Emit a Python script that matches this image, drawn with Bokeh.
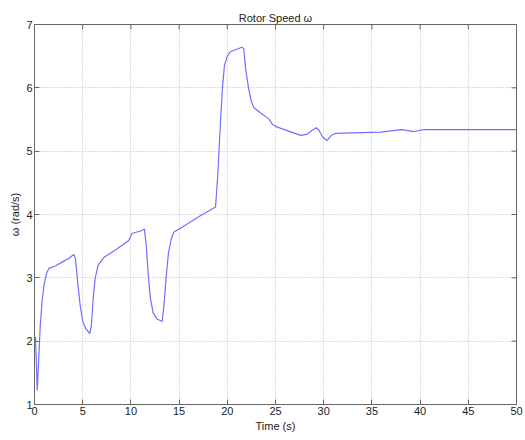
import math
from bokeh.plotting import figure
from bokeh.models import Range1d, FixedTicker
from bokeh.embed import file_html
from bokeh.resources import INLINE

time_s = [0.0, 0.1, 0.2, 0.28, 0.4, 0.6, 0.8, 1.0, 1.25, 1.5, 2.2, 3.0, 3.6, 4.08, 4.25, 4.5,
          4.75, 5.0, 5.3, 5.74, 5.9, 6.1, 6.3, 6.6, 7.19, 8.58, 9.78, 10.1, 11.0, 11.4, 11.6,
          11.8, 12.0, 12.3, 12.7, 13.25, 13.45, 13.65, 13.9, 14.2, 14.45, 15.3, 17.2, 18.78,
          19.0, 19.3, 19.5, 19.7, 20.0, 20.3, 21.5, 21.7, 21.9, 22.2, 22.5, 22.75, 23.5, 24.3,
          24.7, 25.2, 27.6, 28.3, 28.8, 29.25, 29.5, 29.9, 30.36, 30.8, 31.2, 35.9, 38.1,
          39.35, 40.4, 45.0, 50.0]
omega = [2.05, 2.06, 1.6, 1.22, 1.6, 2.25, 2.65, 2.9, 3.07, 3.15, 3.19, 3.26, 3.31, 3.37, 3.3, 2.9,
         2.55, 2.32, 2.2, 2.12, 2.25, 2.7, 3.0, 3.2, 3.32, 3.46, 3.59, 3.70, 3.74, 3.77, 3.5,
         3.05, 2.7, 2.45, 2.35, 2.31, 2.6, 3.0, 3.4, 3.62, 3.72, 3.80, 3.98, 4.12,
         4.6, 5.48, 6.0, 6.35, 6.5, 6.57, 6.64, 6.62, 6.3, 6.0, 5.78, 5.69, 5.6, 5.51,
         5.42, 5.38, 5.25, 5.27, 5.33, 5.37, 5.33, 5.22, 5.17, 5.25, 5.28, 5.30, 5.34,
         5.31, 5.34, 5.34, 5.34]

x_ticks = [0, 5, 10, 15, 20, 25, 30, 35, 40, 45, 50]
y_ticks = [1, 2, 3, 4, 5, 6, 7]

FONT = "Liberation Sans"
FRAME = "#666666"

p = figure(width=525, height=440, output_backend="svg", toolbar_location=None,
           x_range=Range1d(0, 50), y_range=Range1d(1, 7),
           min_border_left=34, min_border_right=9, min_border_top=24, min_border_bottom=36,
           background_fill_color="white", border_fill_color="white")

p.title.text = "Rotor Speed \u03c9"
p.title.align = "center"
p.title.text_font = FONT
p.title.text_font_size = "11px"
p.title.text_font_style = "normal"
p.title.text_color = "#222222"
p.title.standoff = 2
p.title.offset = 0

p.line(time_s, omega, line_color="#7070ff", line_width=1.2)

for ax in (p.xaxis[0], p.yaxis[0]):
    ax.major_tick_in = 5
    ax.major_tick_out = 0
    ax.minor_tick_in = 0
    ax.minor_tick_out = 0
    ax.axis_line_color = FRAME
    ax.major_tick_line_color = FRAME
    ax.major_label_text_font = FONT
    ax.major_label_text_font_size = "11px"
    ax.major_label_text_color = "#222222"
    ax.axis_label_text_font = FONT
    ax.axis_label_text_font_size = "11px"
    ax.axis_label_text_font_style = "normal"
    ax.axis_label_text_color = "#222222"
    ax.major_label_standoff = 2
    ax.axis_label_standoff = 2

p.xaxis[0].ticker = FixedTicker(ticks=x_ticks)
p.yaxis[0].ticker = FixedTicker(ticks=y_ticks)
p.xaxis[0].axis_label = "Time (s)"
p.yaxis[0].axis_label = "\u03c9 (rad/s)"

# inward tick marks on the top and right edges of the box
p.ray(x=x_ticks, y=[y_ticks[-1]] * len(x_ticks), length=5, length_units="screen",
      angle=-math.pi / 2, line_color=FRAME, line_width=1)
p.ray(x=[x_ticks[-1]] * len(y_ticks), y=y_ticks, length=5, length_units="screen",
      angle=math.pi, line_color=FRAME, line_width=1)

p.xgrid.ticker = FixedTicker(ticks=x_ticks)
p.ygrid.ticker = FixedTicker(ticks=y_ticks)
for g in (p.xgrid[0], p.ygrid[0]):
    g.grid_line_color = "#bbbbbb"
    g.grid_line_dash = "1 2"
    g.grid_line_width = 1

p.outline_line_color = FRAME

open("out.html", "w").write(file_html(p, INLINE))
